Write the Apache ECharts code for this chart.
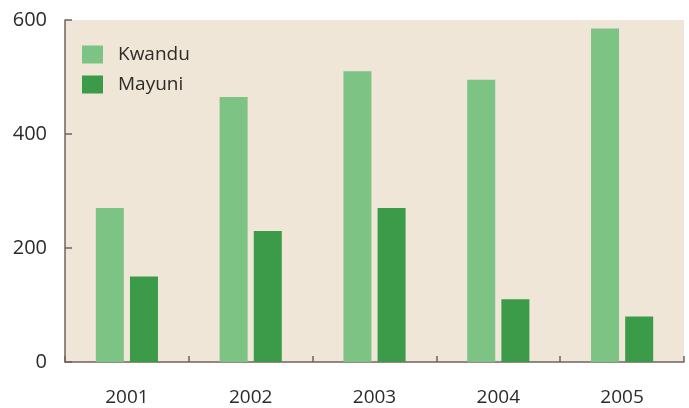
<!DOCTYPE html>
<html><head><meta charset="utf-8">
<script src="https://cdn.jsdelivr.net/npm/echarts@6/dist/echarts.min.js"></script>
<style>html,body{margin:0;padding:0;background:#fff}#c{width:689px;height:408px}</style>
</head><body><div id="c"></div>
<script>
var categories = ['2001','2002','2003','2004','2005'];
var kwandu = [270, 465, 510, 495, 585];
var mayuni = [150, 230, 270, 110, 80];
var yTicks = [0, 200, 400, 600];

var chart = echarts.init(document.getElementById('c'), null, {renderer:'canvas'});
var font = '"Open Sans", sans-serif';
chart.setOption({
  animation: false,
  backgroundColor: '#ffffff',
  textStyle: {fontFamily: font},
  grid: {left: 65, right: 5, top: 20, bottom: 46, show: true, backgroundColor: '#efe6d7', borderWidth: 0},
  legend: {
    orient: 'vertical', left: 82, top: 45, padding: 0,
    itemWidth: 21, itemHeight: 18, itemGap: 11,
    icon: 'rect',
    textStyle: {fontSize: 19, lineHeight: 18, color: '#2e2a26', fontFamily: font, padding: [0,0,0,10]},
    data: ['Kwandu', 'Mayuni']
  },
  xAxis: {
    type: 'category', data: categories,
    axisLine: {lineStyle: {color: '#6e665e', width: 1.5}},
    axisTick: {show: true, inside: true, length: 6, alignWithLabel: false, lineStyle: {color: '#6e665e', width: 1.5}},
    axisLabel: {fontSize: 19, color: '#2b2b2b', margin: 26, fontFamily: font}
  },
  yAxis: {
    type: 'value', min: yTicks[0], max: yTicks[yTicks.length-1], interval: 200,
    axisLine: {show: true, lineStyle: {color: '#6e665e', width: 1.5}},
    axisTick: {show: true, inside: true, length: 7, lineStyle: {color: '#6e665e', width: 1.5}},
    splitLine: {show: false},
    axisLabel: {fontSize: 20, color: '#2b2b2b', margin: 18, fontFamily: font}
  },
  series: [
    {name: 'Kwandu', type: 'bar', data: kwandu, barWidth: 28, barGap: '22%', itemStyle: {color: '#7dc383'}},
    {name: 'Mayuni', type: 'bar', data: mayuni, barWidth: 28, barGap: '22%', itemStyle: {color: '#3b9b48'}}
  ]
});
</script></body></html>
